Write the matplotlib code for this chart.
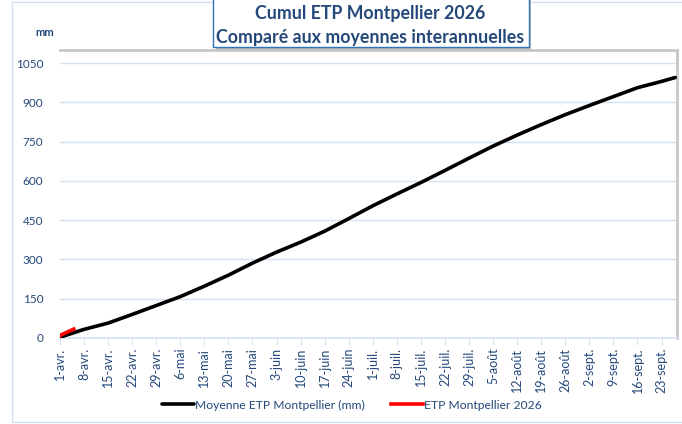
import matplotlib
matplotlib.use("Agg")

import matplotlib.pyplot as plt
from matplotlib.patches import Rectangle

plt.rcParams['font.family'] = ['Lato', 'DejaVu Sans']

# day index from 1 April, weekly readings of the mean curve
mean_days = [0, 7, 14, 21, 28, 35, 42, 49, 56, 63, 70, 77, 84, 91, 98, 105,
             112, 119, 126, 133, 140, 147, 154, 161, 168, 175, 179]
mean_etp = [3, 33, 57, 90, 124, 158, 198, 240, 286, 328, 366, 408, 456, 505,
            550, 594, 640, 687, 733, 775, 815, 853, 888, 922, 956, 980, 995]

year_days = [0, 1, 2, 3, 4]
year_etp = [9, 16, 22, 28, 34]

tick_labels = ["1-avr.", "8-avr.", "15-avr.", "22-avr.", "29-avr.", "6-mai",
               "13-mai", "20-mai", "27-mai", "3-juin", "10-juin", "17-juin",
               "24-juin", "1-juil.", "8-juil.", "15-juil.", "22-juil.", "29-juil.",
               "5-août", "12-août", "19-août", "26-août", "2-sept.", "9-sept.",
               "16-sept.", "23-sept."]
y_ticks = [0, 150, 300, 450, 600, 750, 900, 1050]

TEXT = '#24487A'
GRID = '#D6E2F0'

W, H = 682, 424
fig = plt.figure(figsize=(W / 100, H / 100), dpi=100)

# outer chart border
fig.patches.append(Rectangle((12 / W, 2 / H), 1.0, 420 / H, transform=fig.transFigure,
                             fill=False, edgecolor='#D3E0F0', linewidth=1.0))

ax = fig.add_axes([60 / W, 1 - 338 / H, 617 / W, 288 / H])
ax.plot(mean_days, mean_etp, color='black', linewidth=2.6,
        solid_capstyle='round', label='Moyenne ETP Montpellier (mm)', zorder=3)
ax.plot(year_days, year_etp, color='#FF0000', linewidth=2.6,
        label='ETP Montpellier 2026', zorder=4)

ax.set_xlim(0, 179.5)
ax.set_ylim(0, 1100)
ax.set_yticks(y_ticks)
ax.set_xticks(range(0, 7 * len(tick_labels), 7))
ax.set_xticklabels(tick_labels, rotation=90, fontsize=9, color=TEXT)
ax.tick_params(axis='y', length=0, labelsize=8.5, labelcolor=TEXT, pad=12)
ax.tick_params(axis='x', length=5, color=GRID, pad=2, direction='out')
ax.grid(axis='y', color=GRID, linewidth=1.0)
ax.set_axisbelow(True)

ax.spines['left'].set_visible(False)
ax.spines['bottom'].set_color(GRID)
ax.spines['bottom'].set_linewidth(1.2)
ax.spines['top'].set_color('#C8C8C8')
ax.spines['top'].set_linewidth(2)
ax.spines['right'].set_color('#C8C8C8')
ax.spines['right'].set_linewidth(2)

fig.text(45 / W, 1 - 33 / H, 'mm', fontsize=8, fontweight='bold', color=TEXT,
         ha='center', va='center')

# title box
fig.patches.append(Rectangle((216 / W, 1 - 50 / H), 315 / W, 60 / H,
                             transform=fig.transFigure, facecolor='#BBBBBB',
                             edgecolor='none', zorder=5))
fig.patches.append(Rectangle((213 / W, 1 - 47 / H), 316 / W, 60 / H,
                             transform=fig.transFigure, facecolor='white',
                             edgecolor='#2E75B6', linewidth=1.0, zorder=6))
fig.text(370 / W, 1 - 14 / H, 'Cumul ETP Montpellier 2026', fontsize=12.8,
         fontweight='bold', color=TEXT, ha='center', va='center', zorder=7)
fig.text(370 / W, 1 - 37 / H, 'Comparé aux moyennes interannuelles', fontsize=12.8,
         fontweight='bold', color=TEXT, ha='center', va='center', zorder=7)

leg = fig.legend(loc='center', bbox_to_anchor=(352 / W, 1 - 405 / H), ncol=2,
                 frameon=False, fontsize=8.7, handlelength=2.6, handletextpad=0.1,
                 columnspacing=2.2)
for t in leg.get_texts():
    t.set_color(TEXT)

fig.savefig('out.png', dpi=100)
